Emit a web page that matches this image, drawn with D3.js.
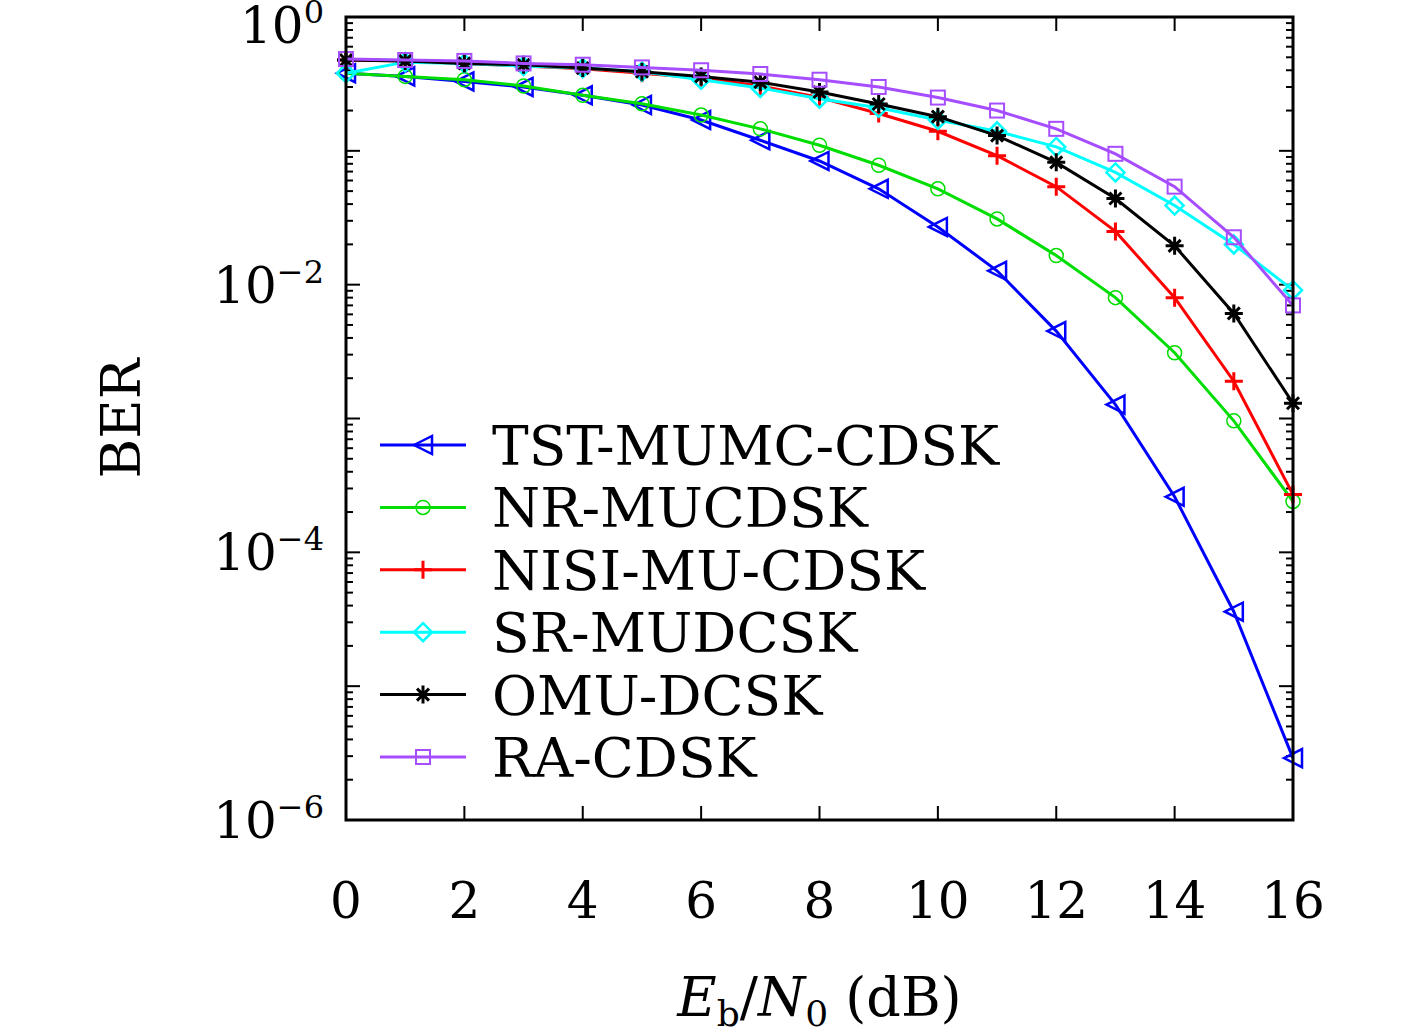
<!DOCTYPE html>
<html><head><meta charset="utf-8">
<script src="https://cdn.jsdelivr.net/npm/d3@7"></script>
<style>body{margin:0;background:#fff}text{font-family:"DejaVu Serif","Liberation Serif",serif}</style>
</head><body><svg id="c" width="1417" height="1034"></svg>
<script>
const snr = d3.range(0, 17);
const tst  = [0.38,0.36,0.33,0.30,0.26,0.22,0.17,0.12,0.084,0.052,0.027,0.0127,0.0045,0.00127,0.00026,3.6e-5,2.9e-6];
const nr   = [0.38,0.36,0.34,0.305,0.26,0.225,0.185,0.146,0.11,0.078,0.052,0.031,0.0165,0.008,0.0031,0.00096,0.00024];
const nisi = [0.477,0.47,0.45,0.43,0.41,0.38,0.35,0.305,0.25,0.19,0.14,0.092,0.054,0.025,0.008,0.0019,0.00027];
const sr   = [0.38,0.46,0.45,0.43,0.415,0.39,0.34,0.295,0.245,0.21,0.17,0.14,0.107,0.069,0.039,0.02,0.0091];
const omu  = [0.477,0.47,0.45,0.44,0.415,0.39,0.36,0.326,0.275,0.224,0.18,0.13,0.082,0.044,0.0195,0.0061,0.0013];
const ra   = [0.485,0.477,0.47,0.45,0.44,0.42,0.40,0.375,0.34,0.30,0.25,0.2,0.146,0.095,0.054,0.0226,0.007];
const series = [
  {name:'TST-MUMC-CDSK', v:tst,  color:'#0000ff', m:'tri'},
  {name:'NR-MUCDSK',     v:nr,   color:'#00dd00', m:'circle'},
  {name:'NISI-MU-CDSK',  v:nisi, color:'#ff0000', m:'plus'},
  {name:'SR-MUDCSK',     v:sr,   color:'#00ffff', m:'diamond'},
  {name:'OMU-DCSK',      v:omu,  color:'#000000', m:'star'},
  {name:'RA-CDSK',       v:ra,   color:'#a64dff', m:'square'}
];
const xTicks = d3.range(0, 17, 2);
const yTicks = [0, -2, -4, -6];

const svg = d3.select('#c');
const L = 346, R = 1293, T = 17, B = 820;
const x = d3.scaleLinear().domain([0, 16]).range([L, R]);
const y = d3.scaleLog().domain([1e-6, 1]).range([B, T]);

const g = svg.append('g');
for (let e = -6; e < 0; e++) {
  for (let k = 1; k < 10; k++) {
    const v = k * Math.pow(10, e), len = k === 1 ? 14 : 7;
    g.append('line').attr('x1', L).attr('x2', L + len).attr('y1', y(v)).attr('y2', y(v)).attr('stroke', '#000').attr('stroke-width', 2);
    g.append('line').attr('x1', R).attr('x2', R - len).attr('y1', y(v)).attr('y2', y(v)).attr('stroke', '#000').attr('stroke-width', 2);
  }
}
xTicks.forEach(t => {
  g.append('line').attr('x1', x(t)).attr('x2', x(t)).attr('y1', B).attr('y2', B - 14).attr('stroke', '#000').attr('stroke-width', 2);
  g.append('line').attr('x1', x(t)).attr('x2', x(t)).attr('y1', T).attr('y2', T + 14).attr('stroke', '#000').attr('stroke-width', 2);
  g.append('text').attr('x', x(t)).attr('y', B + 98).attr('text-anchor', 'middle').attr('font-size', 50).text(t);
});
yTicks.forEach(e => {
  const t = g.append('text').attr('x', L - 22).attr('y', y(Math.pow(10, e)) + 18 + (e === 0 ? 8 : 0)).attr('text-anchor', 'end').attr('font-size', 50);
  t.append('tspan').text('10');
  t.append('tspan').attr('dy', -20).attr('font-size', 32).text(e === 0 ? '0' : '\u2212' + (-e));
});
svg.append('text').attr('transform', `translate(140,${(T + B) / 2}) rotate(-90)`).attr('text-anchor', 'middle').attr('font-size', 54).text('BER');
const xl = svg.append('text').attr('x', (L + R) / 2).attr('y', 1016).attr('text-anchor', 'middle').attr('font-size', 54);
xl.append('tspan').attr('font-style', 'italic').text('E');
xl.append('tspan').attr('font-size', 36).attr('dy', 10).text('b');
xl.append('tspan').attr('dy', -10).text('/');
xl.append('tspan').attr('font-style', 'italic').text('N');
xl.append('tspan').attr('font-size', 36).attr('dy', 10).text('0');
xl.append('tspan').attr('dy', -10).text(' (dB)');

function marker(sel, m, c) {
  const s = 9;
  if (m === 'tri') sel.append('path').attr('d', `M${-s},0L${s},${-s}L${s},${s}Z`).attr('fill', 'none').attr('stroke', c).attr('stroke-width', 2.5);
  if (m === 'circle') sel.append('circle').attr('r', 7).attr('fill', 'none').attr('stroke', c).attr('stroke-width', 1.5);
  if (m === 'plus') sel.append('path').attr('d', `M${-s},0H${s}M0,${-s}V${s}`).attr('stroke', c).attr('stroke-width', 3);
  if (m === 'diamond') sel.append('path').attr('d', `M0,${-s}L${s},0L0,${s}L${-s},0Z`).attr('fill', 'none').attr('stroke', c).attr('stroke-width', 2.5);
  if (m === 'star') sel.append('path').attr('d', `M${-s},0H${s}M0,${-s}V${s}M-6,-6L6,6M-6,6L6,-6`).attr('stroke', c).attr('stroke-width', 3);
  if (m === 'square') sel.append('rect').attr('x', -7).attr('y', -7).attr('width', 14).attr('height', 14).attr('fill', 'none').attr('stroke', c).attr('stroke-width', 2);
}

const line = d3.line().x((d, i) => x(snr[i])).y(d => y(d));
series.forEach(s => {
  svg.append('path').attr('d', line(s.v)).attr('fill', 'none').attr('stroke', s.color).attr('stroke-width', 3);
  s.v.forEach((v, i) => marker(svg.append('g').attr('transform', `translate(${x(snr[i])},${y(v)})`), s.m, s.color));
});

series.forEach((s, i) => {
  const ly = 445 + i * 62.4;
  svg.append('line').attr('x1', 380).attr('x2', 466).attr('y1', ly).attr('y2', ly).attr('stroke', s.color).attr('stroke-width', 3);
  marker(svg.append('g').attr('transform', `translate(423,${ly})`), s.m, s.color);
  svg.append('text').attr('x', 492).attr('y', ly + 20).attr('font-size', 55).text(s.name);
});

svg.append('rect').attr('x', L).attr('y', T).attr('width', R - L).attr('height', B - T).attr('fill', 'none').attr('stroke', '#000').attr('stroke-width', 3);
</script></body></html>
